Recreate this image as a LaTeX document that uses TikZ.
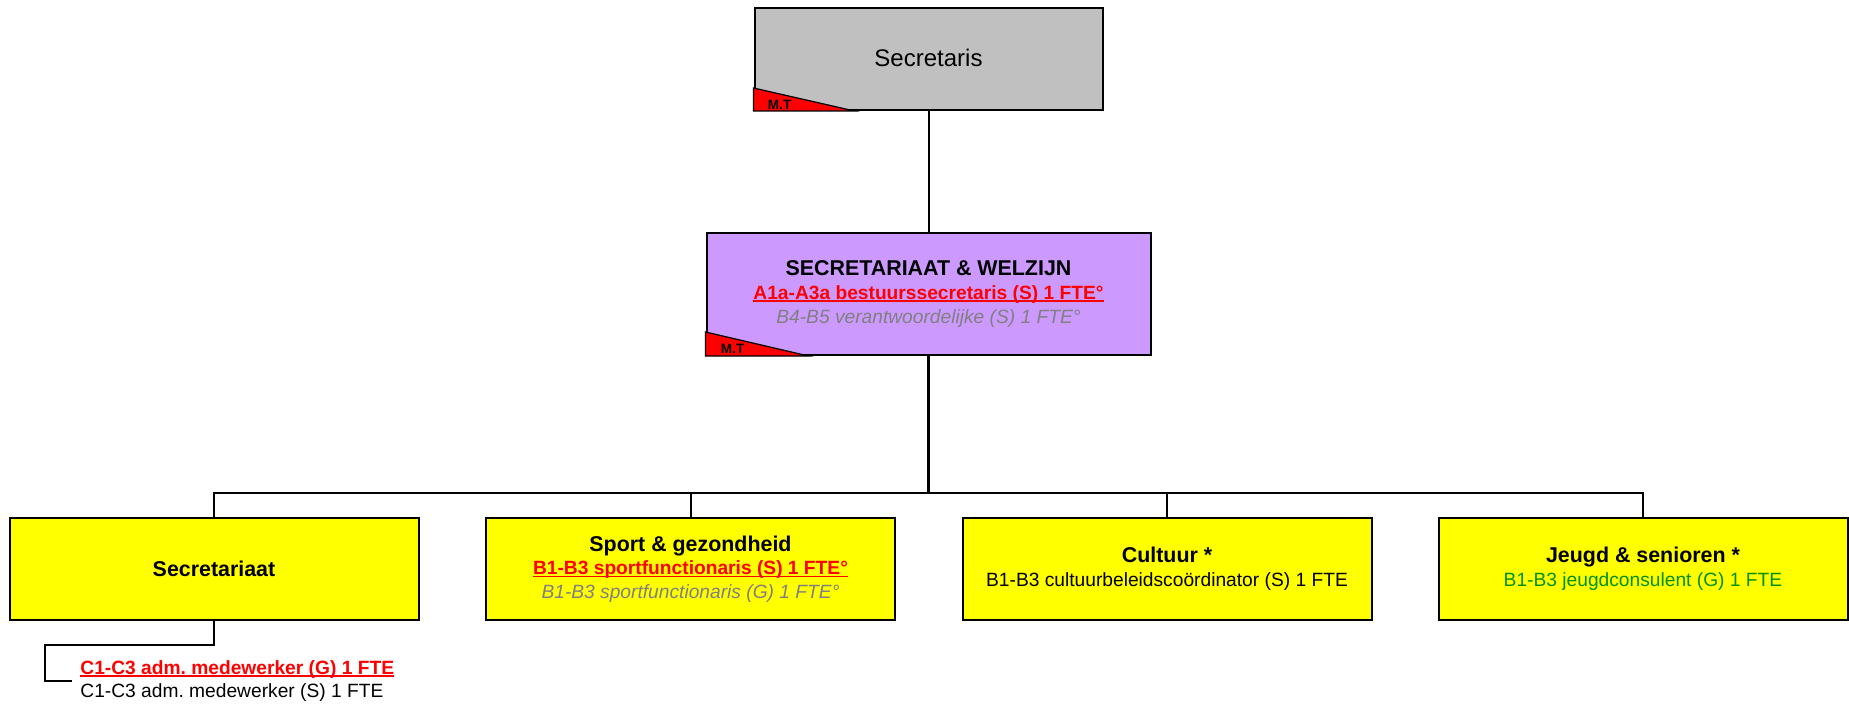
\documentclass[tikz,border=0pt]{standalone}
\usepackage{fontspec}
\setmainfont{Liberation Sans}
\usetikzlibrary{positioning, calc}
\definecolor{orgGrey}{HTML}{C0C0C0}
\definecolor{orgPurple}{HTML}{CC99FF}
\definecolor{orgYellow}{HTML}{FFFF00}
\definecolor{orgRed}{HTML}{FF0000}
\definecolor{orgMute}{HTML}{808080}
\definecolor{orgGreen}{HTML}{009000}

\frenchspacing
\newsavebox{\vacbox}
\newcommand{\vacant}[1]{\textcolor{orgRed}{\bfseries\sbox{\vacbox}{#1}\rlap{\rule[-1.3pt]{\wd\vacbox}{0.8pt}}\usebox{\vacbox}}}
\newcommand{\muted}[1]{\textcolor{orgMute}{\itshape #1}}

\begin{document}
\begin{tikzpicture}[x=0.5pt, y=-0.5pt]
        % Styles
        \tikzstyle{unit} = [rectangle, draw=black, line width=1pt, align=center, inner sep=0pt, font=\fontsize{9.6}{11.8}\selectfont]
        \tikzstyle{head} = [unit, minimum width=174pt, minimum height=51pt, fill=orgGrey, font=\fontsize{12}{14}\selectfont]
        \tikzstyle{dept} = [unit, minimum width=222pt, minimum height=61pt, fill=orgPurple]
        \tikzstyle{team} = [unit, minimum width=204.5pt, minimum height=51pt, fill=orgYellow]
        \tikzstyle{line} = [line width=1pt, color=black]
        \tikzstyle{mtflag} = [draw=black, line width=0.6pt, fill=orgRed]
        \tikzstyle{mtlabel} = [anchor=west, inner sep=0pt, font=\fontsize{6.8}{8}\selectfont\bfseries]

        \useasboundingbox (0,0) rectangle (1849,706);

        % Nodes
        \node (head) [head] at (928.5,59) {\raisebox{1pt}{Secretaris}};

        \node (dept) [dept] at (928.5,294) {{\fontsize{10.7}{12.5}\selectfont\bfseries SECRETARIAAT \& WELZIJN}\\
            \vacant{A1a-A3a bestuurssecretaris (S) 1 FTE°}\\
            \muted{B4-B5 verantwoordelijke (S) 1 FTE°}};

        \node (secr) [team] at (214,569) {{\fontsize{10.7}{12.5}\selectfont\bfseries Secretariaat}};

        \node (sport) [team] at (690.5,569) {{\fontsize{10.7}{12.5}\selectfont\bfseries Sport \& gezondheid}\\
            \vacant{B1-B3 sportfunctionaris (S) 1 FTE°}\\
            \muted{B1-B3 sportfunctionaris (G) 1 FTE°}};

        \node (cult) [team] at (1167,569) {{\fontsize{10.7}{12.5}\selectfont\bfseries Cultuur *}\\
            B1-B3 cultuurbeleidscoördinator (S) 1 FTE};

        \node (youth) [team] at (1643,569) {{\fontsize{10.7}{12.5}\selectfont\bfseries Jeugd \& senioren *}\\
            \textcolor{orgGreen}{B1-B3 jeugdconsulent (G) 1 FTE}};

        \node (staff) [anchor=west, align=left, inner sep=0pt, font=\fontsize{9.6}{11.6}\selectfont] at (80,681) {\vacant{C1-C3 adm. medewerker (G) 1 FTE}\\
            C1-C3 adm. medewerker (S) 1 FTE};

        % M.T flags
        \filldraw [mtflag] (head.south west) -- ++(0,-23) -- ++(101,23) -- cycle;
        \node [mtlabel] at ($(head.south west)+(14,-6)$) {M.T};
        \filldraw [mtflag] (dept.south west) -- ++(0,-24) -- ++(103,24) -- cycle;
        \node [mtlabel] at ($(dept.south west)+(15,-7)$) {M.T};

        % Lines
        \coordinate (bus) at (928.5,493);
        \coordinate (bend) at (45,645);
        \draw [line] (head) -- (dept);
        \draw [line, line width=1.3pt] (dept) -- (bus);
        \foreach \t in {secr, sport, cult, youth}
            \draw [line] (bus) -| (\t.north);
        \draw [line] (secr.south) |- (bend) |- ([xshift=-4pt]staff.west);

    \end{tikzpicture}
\end{document}
